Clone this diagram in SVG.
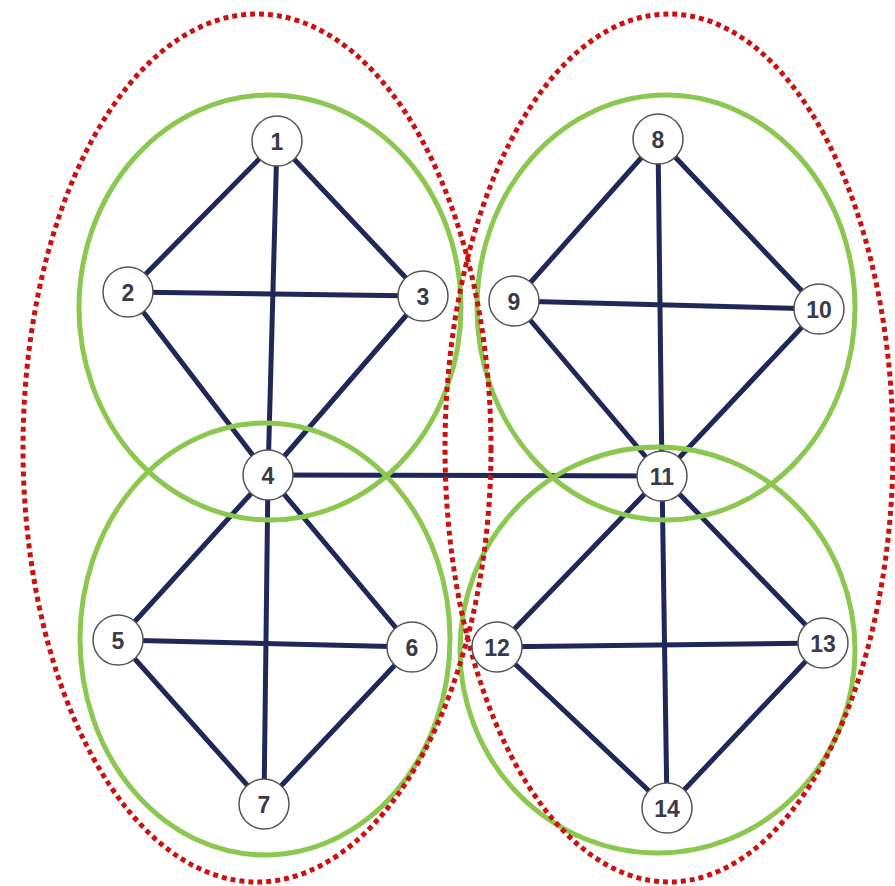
<svg xmlns="http://www.w3.org/2000/svg" width="895" height="886" viewBox="0 0 895 886">
<style>
.e{stroke:#1f2858;stroke-width:5;stroke-linecap:round}
.g{fill:none;stroke:#8cc850;stroke-width:5}
.r{fill:none;stroke:#cc1111;stroke-width:5;stroke-dasharray:5 4}
.n circle{fill:#fff;stroke:#555;stroke-width:1.5}
.n text{font-family:"Liberation Sans",Arial,sans-serif;font-size:23px;font-weight:bold;fill:#3a3a48;text-anchor:middle;dominant-baseline:central}
</style>
<rect width="895" height="886" fill="#fff"/>
<g id="connectors">
<line class="e" x1="277" y1="141" x2="128" y2="292"/>
<line class="e" x1="277" y1="141" x2="423" y2="296"/>
<line class="e" x1="277" y1="141" x2="268" y2="475"/>
<line class="e" x1="128" y1="292" x2="423" y2="296"/>
<line class="e" x1="128" y1="292" x2="268" y2="475"/>
<line class="e" x1="423" y1="296" x2="268" y2="475"/>
<line class="e" x1="268" y1="475" x2="118" y2="640"/>
<line class="e" x1="268" y1="475" x2="412" y2="647"/>
<line class="e" x1="268" y1="475" x2="264" y2="804"/>
<line class="e" x1="118" y1="640" x2="412" y2="647"/>
<line class="e" x1="118" y1="640" x2="264" y2="804"/>
<line class="e" x1="412" y1="647" x2="264" y2="804"/>
<line class="e" x1="658" y1="139" x2="514" y2="301"/>
<line class="e" x1="658" y1="139" x2="819" y2="309"/>
<line class="e" x1="658" y1="139" x2="662" y2="476"/>
<line class="e" x1="514" y1="301" x2="819" y2="309"/>
<line class="e" x1="514" y1="301" x2="662" y2="476"/>
<line class="e" x1="819" y1="309" x2="662" y2="476"/>
<line class="e" x1="662" y1="476" x2="497" y2="647"/>
<line class="e" x1="662" y1="476" x2="823" y2="643"/>
<line class="e" x1="662" y1="476" x2="667" y2="808"/>
<line class="e" x1="497" y1="647" x2="823" y2="643"/>
<line class="e" x1="497" y1="647" x2="667" y2="808"/>
<line class="e" x1="823" y1="643" x2="667" y2="808"/>
<line class="e" x1="268" y1="475" x2="662" y2="476"/>
</g>
<g id="groups">
<ellipse class="g" cx="270" cy="307.5" rx="191" ry="212.5"/>
<ellipse class="g" cx="265" cy="639" rx="185" ry="216"/>
<ellipse class="g" cx="666" cy="307.5" rx="189" ry="212.5"/>
<ellipse class="g" cx="657.5" cy="650" rx="197.5" ry="203"/>
<ellipse class="r" cx="257" cy="448" rx="234" ry="434"/>
<ellipse class="r" cx="669" cy="448" rx="224" ry="434"/>
</g>
<g id="node1" class="n"><circle cx="277" cy="141" r="25"/><text x="277" y="142">1</text></g>
<g id="node2" class="n"><circle cx="128" cy="292" r="25"/><text x="128" y="293">2</text></g>
<g id="node3" class="n"><circle cx="423" cy="296" r="25"/><text x="423" y="297">3</text></g>
<g id="node4" class="n"><circle cx="268" cy="475" r="25"/><text x="268" y="476">4</text></g>
<g id="node5" class="n"><circle cx="118" cy="640" r="25"/><text x="118" y="641">5</text></g>
<g id="node6" class="n"><circle cx="412" cy="647" r="25"/><text x="412" y="648">6</text></g>
<g id="node7" class="n"><circle cx="264" cy="804" r="25"/><text x="264" y="805">7</text></g>
<g id="node8" class="n"><circle cx="658" cy="139" r="25"/><text x="658" y="140">8</text></g>
<g id="node9" class="n"><circle cx="514" cy="301" r="25"/><text x="514" y="302">9</text></g>
<g id="node10" class="n"><circle cx="819" cy="309" r="25"/><text x="819" y="310">10</text></g>
<g id="node11" class="n"><circle cx="662" cy="476" r="25"/><text x="662" y="477">11</text></g>
<g id="node12" class="n"><circle cx="497" cy="647" r="25"/><text x="497" y="648">12</text></g>
<g id="node13" class="n"><circle cx="823" cy="643" r="25"/><text x="823" y="644">13</text></g>
<g id="node14" class="n"><circle cx="667" cy="808" r="25"/><text x="667" y="809">14</text></g>
</svg>
